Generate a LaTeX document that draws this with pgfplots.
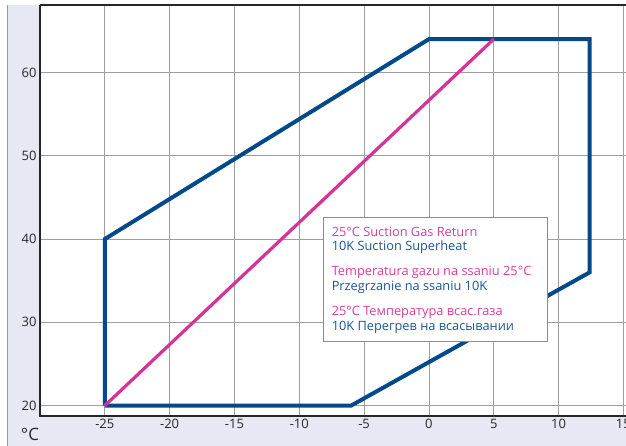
\documentclass[border=0pt]{standalone}
\usepackage{fontspec}
\setmainfont{Open Sans}
\usepackage{pgfplots}
\pgfplotsset{compat=1.18}

\definecolor{envblue}{RGB}{0,74,140}
\definecolor{envmag}{RGB}{212,52,152}
\definecolor{txtblue}{RGB}{30,84,150}
\definecolor{txtmag}{RGB}{218,62,158}
\definecolor{bandbg}{RGB}{230,233,244}

\begin{document}
\begin{tikzpicture}
\path[use as bounding box] (-40pt,-30pt) rectangle (586pt,416pt);
\fill[bandbg] (-33pt,-30pt) rectangle (586pt,411pt);
\draw[black!40, line width=0.8pt] (-33pt,-30pt) -- (-33pt,411pt);
\begin{axis}[
    at={(0pt,0pt)}, anchor=south west,
    scale only axis,
    width=586pt, height=411pt,
    xmin=-30, xmax=15.2,
    ymin=18.75, ymax=68.1,
    axis background/.style={fill=white},
    axis line style={draw=none},
    major tick length=0pt,
    xtick={-25,-20,-15,-10,-5,0,5,10,15},
    xticklabels={-25,-20,-15,-10,-5,0,5,10,15},
    ytick={20,30,40,50,60},
    yticklabels={20,30,40,50,60},
    grid=major,
    grid style={black!38, line width=0.8pt},
    tick label style={font=\fontsize{13}{13}\selectfont, text=black!85},
    clip=false,
]
% compressor envelope
\addplot[envblue, line width=4pt, line join=miter] coordinates {
    (-25,20) (-6,20) (12.4,36) (12.4,64) (0,64) (-25,40) (-25,20)
};
% suction gas return line
\addplot[envmag, line width=3.2pt] coordinates {
    (-25,20) (5,64)
};
% frame
\draw[black!85, line width=1.2pt] (rel axis cs:0,1) -- (rel axis cs:1,1);
\draw[black!85, line width=1.2pt] (rel axis cs:0,1) -- (rel axis cs:0,0) -- (rel axis cs:1,0);
% legend box
\draw[black!45, fill=white, line width=0.8pt] (axis cs:-8.13,42.56) rectangle (axis cs:9.17,27.66);
\begin{scope}[every node/.style={anchor=base west, inner sep=0pt, font=\fontsize{12.8}{14}\selectfont}]
\node[text=txtmag]  at (axis cs:-7.51,40.28) {25°C Suction Gas Return};
\node[text=txtblue] at (axis cs:-7.51,38.59) {10K Suction Superheat};
\node[text=txtmag]  at (axis cs:-7.51,35.58) {Temperatura gazu na ssaniu 25°C};
\node[text=txtblue] at (axis cs:-7.51,33.78) {Przegrzanie na ssaniu 10K};
\node[text=txtmag]  at (axis cs:-7.51,30.78) {25°C Температура всас.газа};
\node[text=txtblue] at (axis cs:-7.51,28.98) {10K Перегрев на всасывании};
\end{scope}
\end{axis}
\node[font=\fontsize{17}{17}\selectfont, text=black!85, inner sep=0pt] at (-10pt,-18pt) {°C};
\end{tikzpicture}
\end{document}
